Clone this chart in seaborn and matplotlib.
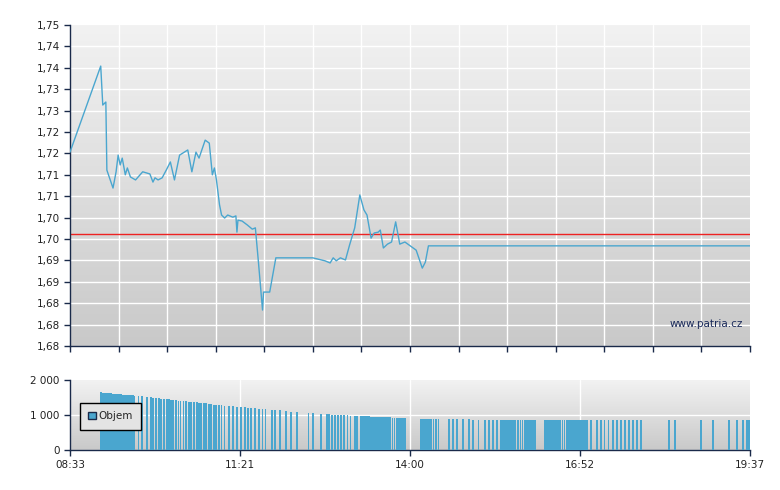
import numpy as np
import matplotlib
matplotlib.use("Agg")
import matplotlib.pyplot as plt
import seaborn as sns
import pandas as pd
from matplotlib.patches import Patch

sns.set_theme(style="white")
plt.rcParams['font.family'] = ['DejaVu Sans']

# minutes after 08:33
price_t = [0,30,32,35,36,42,45,47,49,51,54,56,59,64,71,78,81,83,86,90,94,98,102,107,115,119,123,126,132,136,
           139,141,143,146,148,151,154,159,162,163,164,168,173,178,181,184,188,189,195,201,207,237,249,254,257,260,
           264,269,273,278,283,287,290,294,297,301,303,306,310,314,318,322,327,338,344,347,350,664]
price_v = [1.7203,1.7404,1.7313,1.7320,1.7161,1.7119,1.7157,1.7196,1.7173,1.7189,1.7150,1.7166,1.7145,1.7138,
           1.7157,1.7152,1.7133,1.7143,1.7138,1.7143,1.7161,1.7180,1.7138,1.7196,1.7208,1.7157,1.7203,1.7189,
           1.7231,1.7224,1.7150,1.7166,1.7138,1.7080,1.7056,1.7049,1.7056,1.7051,1.7054,1.7016,1.7044,1.7042,
           1.7033,1.7023,1.7026,1.6946,1.6834,1.6876,1.6876,1.6956,1.6956,1.6956,1.6949,1.6944,1.6956,1.6949,
           1.6956,1.6951,1.6986,1.7026,1.7103,1.7068,1.7056,1.7002,1.7014,1.7016,1.7021,1.6979,1.6988,1.6993,
           1.7040,1.6988,1.6993,1.6974,1.6932,1.6946,1.6984,1.6984]
ref_price = 1.7012

vol_t = [29,31,33,35,37,39,41,43,45,47,49,51,53,55,57,59,61,62,
         66,69,74,78,80,83,86,88,91,94,96,98,100,103,105,107,110,112,115,117,120,123,125,127,130,132,135,137,140,142,145,147,150,154,158,162,166,170,173,176,180,184,187,190,
         196,199,204,210,215,221,
         232,236,
         244,250,252,255,258,261,264,267,270,273,277,279,283,285,287,289,291,293,295,297,299,301,303,305,307,309,311,312,314,316,318,320,322,324,326,
         342,344,346,348,350,352,354,356,357,359,
         369,373,377,383,389,393,398,404,408,412,416,420,
         422,424,426,428,430,432,434,436,437,439,441,443,445,447,449,451,453,
         463,465,467,469,471,473,475,477,478,480,482,484,486,488,490,492,494,496,498,500,502,504,
         508,514,518,521,525,529,533,537,541,545,549,553,557,
         584,590,615,627,643,650,656,660,662]
vol_v = [1650,1640,1630,1630,1620,1620,1610,1600,1600,1590,1590,1580,1580,1570,1570,1560,1560,1550,
         1540,1530,1520,1510,1500,1490,1480,1470,1460,1450,1450,1440,1430,1420,1410,1400,1400,1390,1380,1370,1370,1360,1350,1340,1340,1330,1320,1310,1300,1300,1290,1280,1270,1260,1250,1240,1230,1220,1210,1200,1190,1180,1170,1160,
         1150,1140,1130,1110,1100,1090,
         1060,1050,
         1030,1020,1020,1010,1010,1000,1000,990,990,980,980,970,970,970,960,960,960,950,950,950,950,940,940,940,930,930,930,930,920,920,920,920,910,910,910,
         880,880,880,880,880,880,880,875,875,875,
         875,875,875,875,875,870,870,870,870,870,870,870,
         870,870,870,870,870,870,870,870,870,870,865,865,865,865,865,865,865,
         865,865,865,865,865,865,865,865,865,865,860,860,860,860,860,860,860,860,860,860,860,860,
         860,860,860,858,858,858,858,858,858,858,858,858,858,
         855,855,855,855,852,852,852,852,852]

x_tick_pos = [0, 166, 332, 498, 664]
x_tick_lab = ["08:33", "11:21", "14:00", "16:52", "19:37"]
y_ticks = [1.675,1.68,1.685,1.69,1.695,1.70,1.705,1.71,1.715,1.72,1.725,1.73,1.735,1.74,1.745,1.75]
y_labels = ["1,68","1,68","1,68","1,69","1,69","1,70","1,70","1,71","1,71","1,72","1,72","1,73","1,73","1,74","1,74","1,75"]
vol_ticks = [0, 1000, 2000]
vol_labels = ["0", "1 000", "2 000"]

line_c = "#4aa6cf"
navy = "#1a2a4a"

fig = plt.figure(figsize=(7.8, 4.9), dpi=100)
ax = fig.add_axes([70/780, (490-346)/490, 680/780, 321/490])
ax2 = fig.add_axes([70/780, (490-450)/490, 680/780, 70/490])

def grad(a, top, bot):
    g = np.linspace(0, 1, 256).reshape(-1, 1)
    c1 = np.array(matplotlib.colors.to_rgb(top)); c2 = np.array(matplotlib.colors.to_rgb(bot))
    img = c1 + (c2 - c1) * g[..., None]
    img = img.reshape(256, 1, 3)
    a.imshow(img, aspect='auto', extent=[0, 1, 0, 1], transform=a.transAxes, zorder=0)

grad(ax, "#f2f2f2", "#c9c9c9")
grad(ax2, "#f2f2f2", "#c9c9c9")

df = pd.DataFrame({"t": price_t, "p": price_v})
sns.lineplot(data=df, x="t", y="p", ax=ax, color=line_c, linewidth=1, zorder=3)
ax.axhline(ref_price, color="#ee2222", linewidth=1, zorder=2)
ax.set_xlim(0, 664); ax.set_ylim(1.675, 1.75)
ax.set_yticks(y_ticks); ax.set_yticklabels(y_labels)
grid_x = np.linspace(0, 664, 15)
ax.set_xticks(grid_x); ax.set_xticklabels([])
for gx in grid_x[1:-1]:
    ax.axvline(gx, color="white", linewidth=1, zorder=1)
for gy in y_ticks[1:-1]:
    ax.axhline(gy, color="white", linewidth=1, zorder=1)
ax.set_xlabel(""); ax.set_ylabel("")
ax.text(0.99, 0.06, "www.patria.cz", transform=ax.transAxes, ha="right", fontsize=7.5, color="#1a2a5a", zorder=4)

ax2.bar(vol_t, vol_v, width=1.8, color=line_c, align="edge", linewidth=0, edgecolor="none", zorder=3)
ax2.set_xlim(0, 664); ax2.set_ylim(0, 2000)
ax2.set_yticks(vol_ticks); ax2.set_yticklabels(vol_labels)
ax2.set_xticks(x_tick_pos); ax2.set_xticklabels(x_tick_lab)
for gx in x_tick_pos[1:-1]:
    ax2.axvline(gx, color="white", linewidth=1, zorder=1)
ax2.axhline(1000, color="white", linewidth=1, zorder=1)
leg = ax2.legend(handles=[Patch(facecolor=line_c, edgecolor=navy, label="Objem")], loc="center left",
                 bbox_to_anchor=(0.007, 0.48), frameon=True, fancybox=False, fontsize=7.5,
                 handlelength=0.7, handleheight=0.7, handletextpad=0.3, borderpad=0.8)
leg.get_frame().set_edgecolor("black"); leg.get_frame().set_facecolor("#e4e4e4"); leg.get_frame().set_alpha(1)
leg.set_zorder(5)

for a in (ax, ax2):
    for s in ("top", "right"):
        a.spines[s].set_visible(False)
    for s in ("left", "bottom"):
        a.spines[s].set_color(navy); a.spines[s].set_linewidth(1)
    a.tick_params(axis="both", which="both", length=4, width=1, color=navy, labelsize=7.5,
                  labelcolor="#222222", direction="out", left=True, bottom=True)
    a.set_xlabel(""); a.set_ylabel("")

fig.savefig("out.png", dpi=100)
